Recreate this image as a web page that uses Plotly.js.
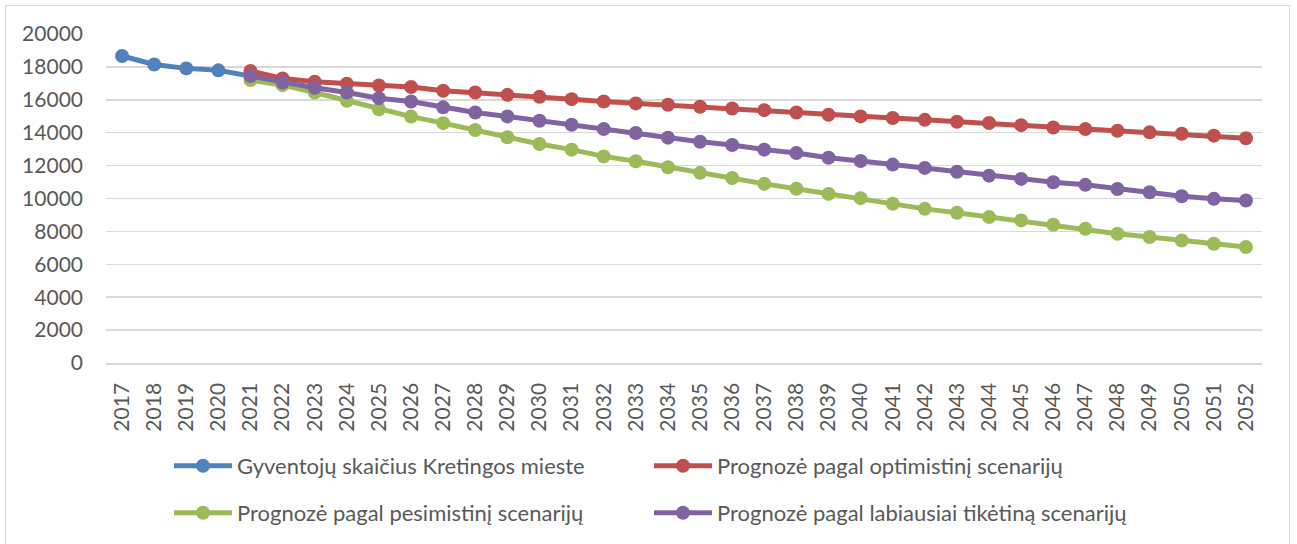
<!DOCTYPE html>
<html>
<head>
<meta charset="utf-8">
<script src="https://cdn.plot.ly/plotly-3.0.1.min.js"></script>
<style>
  html, body { margin: 0; padding: 0; background: #ffffff; }
  #wrap { position: relative; width: 1297px; height: 544px; overflow: hidden; }
  #chart { width: 1297px; height: 544px; }
  #frame { position: absolute; left: 5px; top: 5px; width: 1285px; height: 600px;
           border: 1.5px solid #d9d9d9; box-sizing: border-box; pointer-events: none; }
</style>
</head>
<body>
<div id="wrap">
  <div id="chart"></div>
  <div id="frame"></div>
</div>
<script>
const years = [2017,2018,2019,2020,2021,2022,2023,2024,2025,2026,2027,2028,2029,2030,2031,2032,2033,2034,2035,2036,2037,2038,2039,2040,2041,2042,2043,2044,2045,2046,2047,2048,2049,2050,2051,2052].map(String);

const histYears = ["2017","2018","2019","2020","2021"];
const historical = [18660, 18150, 17910, 17790, 17440];

const forecastYears = years.slice(4);
const optimistic = [17750,17300,17100,16980,16870,16780,16550,16440,16300,16180,16040,15900,15780,15700,15580,15470,15370,15230,15090,14990,14890,14780,14670,14590,14460,14320,14220,14120,14020,13940,13820,13660];
const pessimistic = [17200,16890,16440,15940,15430,14980,14580,14160,13720,13310,12970,12560,12260,11900,11560,11250,10890,10590,10280,10020,9680,9370,9130,8870,8670,8400,8160,7860,7660,7450,7250,7050];
const likely = [17440,17050,16730,16440,16100,15900,15540,15230,14990,14730,14480,14220,13980,13700,13450,13250,12970,12770,12480,12280,12060,11860,11630,11390,11190,10990,10830,10580,10380,10140,9980,9880];

const names = [
  "Gyventojų skaičius Kretingos mieste",
  "Prognozė pagal optimistinį scenarijų",
  "Prognozė pagal pesimistinį scenarijų",
  "Prognozė pagal labiausiai tikėtiną scenarijų"
];
const colors = ["#4f81bd", "#c0504d", "#9bbb59", "#8064a2"];

function tr(x, y, i, legend) {
  return {
    x: x, y: y, name: names[i], type: "scatter", mode: "lines+markers",
    line: { color: colors[i], width: 5 },
    marker: { color: colors[i], size: 14, symbol: "circle" },
    legend: legend, hoverinfo: "skip"
  };
}

const data = [
  tr(histYears, historical, 0, "legend"),
  tr(forecastYears, optimistic, 1, "legend"),
  tr(forecastYears, pessimistic, 2, "legend2"),
  tr(forecastYears, likely, 3, "legend2")
];

const font = { family: "Lato, 'Open Sans', sans-serif", size: 21, color: "#595959" };

const legendCommon = {
  orientation: "h", xanchor: "left", yanchor: "middle",
  x: (169 - 106) / 1156, entrywidth: 407, entrywidthmode: "pixels",
  itemwidth: 58, font: { family: font.family, size: 22, color: "#595959" },
  bgcolor: "rgba(0,0,0,0)", borderwidth: 0, traceorder: "normal"
};

const layout = {
  width: 1297, height: 544,
  margin: { l: 106, r: 35, t: 34, b: 180 },
  paper_bgcolor: "#ffffff", plot_bgcolor: "#ffffff",
  font: font,
  showlegend: true,
  legend: Object.assign({}, legendCommon, { y: (364 - 466) / 330 }),
  legend2: Object.assign({}, legendCommon, { y: (364 - 513) / 330 }),
  xaxis: {
    type: "category", categoryorder: "array", categoryarray: years,
    range: [-0.5, 35.5], tickangle: -90, showgrid: false,
    showline: true, linecolor: "#d9d9d9", linewidth: 1.5,
    ticks: "", ticklabelstandoff: 10, zeroline: false,
    tickfont: { family: font.family, size: 21, color: "#595959" }
  },
  yaxis: {
    range: [0, 20000], dtick: 2000, tick0: 0, showgrid: true,
    gridcolor: "#d9d9d9", gridwidth: 1.5, zeroline: false, showline: false,
    ticks: "", ticklabelstandoff: 22, tickformat: "d",
    tickfont: { family: font.family, size: 21, color: "#595959" }
  }
};

Plotly.newPlot("chart", data, layout, { displayModeBar: false, staticPlot: true });
</script>
</body>
</html>
